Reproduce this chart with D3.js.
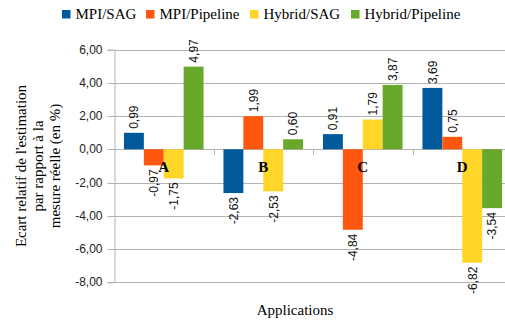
<!DOCTYPE html>
<html>
<head>
<meta charset="utf-8">
<script src="https://cdn.jsdelivr.net/npm/d3@7"></script>
<style>
  html, body { margin: 0; padding: 0; background: #fff; }
  svg { display: block; overflow: hidden; }
</style>
</head>
<body>
<svg id="chart" width="505" height="320"></svg>
<script>
// Relative error of the estimate vs. measured time (%), per application
const categories = ["A", "B", "C", "D"];
const seriesNames = ["MPI/SAG", "MPI/Pipeline", "Hybrid/SAG", "Hybrid/Pipeline"];
const mpiSag        = [0.99, -2.63, 0.91, 3.69];
const mpiPipeline   = [-0.97, 1.99, -4.84, 0.75];
const hybridSag     = [-1.75, -2.53, 1.79, -6.82];
const hybridPipeline = [4.97, 0.60, 3.87, -3.54];
const seriesColors = ["#00599b", "#ff570f", "#ffd528", "#68a82a"];
const yTicks = [-8, -6, -4, -2, 0, 2, 4, 6];
const yTitleLines = ["Ecart relatif de l'estimation", "par rapport à la", "mesure réelle (en %)"];
const xTitle = "Applications";

const seriesValues = [mpiSag, mpiPipeline, hybridSag, hybridPipeline];
const rows = [];
categories.forEach((c, i) => {
  seriesNames.forEach((s, j) => rows.push({ cat: c, series: s, value: seriesValues[j][i], color: seriesColors[j] }));
});

const svg = d3.select("#chart");
const plot = { left: 114, right: 512, top: 49.5, bottom: 282.3 };
const fmt = v => d3.format(".2f")(v).replace(".", ",").replace("−", "-");

const y = d3.scaleLinear().domain([-8, 6]).range([plot.bottom, plot.top]);
const x0 = d3.scaleBand().domain(categories).range([plot.left, plot.right])
  .paddingInner(0.2).paddingOuter(0.1);
const x1 = d3.scaleBand().domain(seriesNames).range([0, x0.bandwidth()]);

const sans = "'Liberation Sans', Arial, sans-serif";
const serif = "'Liberation Serif', 'Times New Roman', serif";

// horizontal grid
svg.append("g").selectAll("line").data(yTicks).join("line")
  .attr("x1", plot.left).attr("x2", plot.right)
  .attr("y1", d => Math.round(y(d)) + 0.5).attr("y2", d => Math.round(y(d)) + 0.5)
  .attr("stroke", "#b3b3b3").attr("stroke-width", 1);

// y axis
const yAxis = d3.axisLeft(y).tickValues(yTicks).tickSize(7).tickPadding(5).tickFormat(fmt);
const gy = svg.append("g").attr("transform", `translate(${plot.left + 0.5},0)`).call(yAxis);
gy.select(".domain").attr("stroke", "#b3b3b3");
gy.selectAll(".tick line").attr("stroke", "#b3b3b3");
gy.selectAll(".tick text").attr("font-family", sans).attr("font-size", 12).attr("fill", "#222");
gy.selectAll(".tick").attr("transform", d => `translate(0,${Math.round(y(d)) + 0.5})`);

// category separators on the zero line
const bounds = categories.slice(1).map(c => x0(c) - x0.step() * x0.paddingInner() / 2);
svg.append("g").selectAll("line").data(bounds).join("line")
  .attr("x1", d => Math.round(d) + 0.5).attr("x2", d => Math.round(d) + 0.5)
  .attr("y1", Math.round(y(0))).attr("y2", Math.round(y(0)) + 6)
  .attr("stroke", "#b3b3b3");

// bars
const bars = svg.append("g");
bars.selectAll("rect").data(rows).join("rect")
  .attr("x", d => x0(d.cat) + x1(d.series))
  .attr("width", x1.bandwidth())
  .attr("y", d => y(Math.max(0, d.value)))
  .attr("height", d => Math.abs(y(d.value) - y(0)))
  .attr("fill", d => d.color);

// category names just under the zero line
svg.append("g").selectAll("text").data(categories).join("text")
  .attr("x", d => x0(d) + x0.bandwidth() / 2)
  .attr("y", y(0) + 22.5)
  .attr("text-anchor", "middle")
  .attr("font-family", serif).attr("font-weight", "bold").attr("font-size", 15)
  .attr("fill", "#000")
  .text(d => d);

// value labels, rotated
svg.append("g").selectAll("text").data(rows).join("text")
  .attr("transform", d => {
    const cx = x0(d.cat) + x1(d.series) + x1.bandwidth() / 2;
    const yy = d.value >= 0 ? y(d.value) - 4 : y(d.value) + 4;
    return `translate(${cx + 4.3},${yy}) rotate(-90)`;
  })
  .attr("text-anchor", d => d.value >= 0 ? "start" : "end")
  .attr("font-family", sans).attr("font-size", 12).attr("fill", "#111")
  .text(d => fmt(d.value));

// axis titles
svg.append("text")
  .attr("x", 295).attr("y", 315)
  .attr("text-anchor", "middle")
  .attr("font-family", serif).attr("font-size", 15).attr("fill", "#000")
  .text(xTitle);

const yt = svg.append("text")
  .attr("transform", "translate(25.5,166) rotate(-90)")
  .attr("text-anchor", "middle")
  .attr("font-family", serif).attr("font-size", 15).attr("fill", "#000");
yTitleLines.forEach((l, i) => yt.append("tspan").attr("x", 0).attr("dy", i === 0 ? 0 : 17).text(l));

// legend
const legendX = [62, 146, 250, 351];
const lg = svg.append("g").selectAll("g").data(seriesNames).join("g")
  .attr("transform", (d, i) => `translate(${legendX[i]},10)`);
lg.append("rect").attr("width", 8.5).attr("height", 8.5).attr("fill", (d, i) => seriesColors[i]);
lg.append("text").attr("x", 13.5).attr("y", 9)
  .attr("font-family", serif).attr("font-size", 15).attr("fill", "#000")
  .text(d => d);
</script>
</body>
</html>
